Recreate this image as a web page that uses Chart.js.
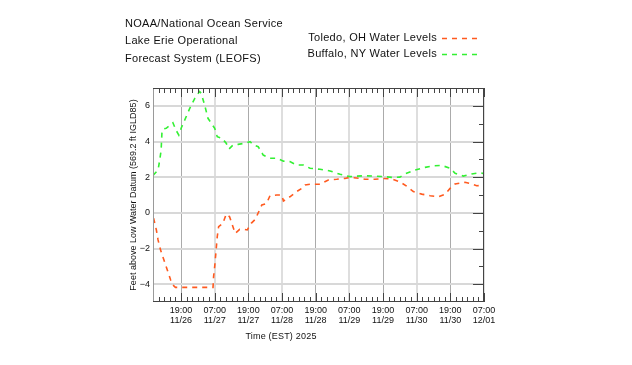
<!DOCTYPE html>
<html>
<head>
<meta charset="utf-8">
<script src="https://cdn.jsdelivr.net/npm/chart.js@4.4.1/dist/chart.umd.min.js"></script>
<style>
html,body{margin:0;padding:0;background:#fff;}
#wrap{position:relative;width:632px;height:365px;}
</style>
</head>
<body>
<div id="wrap"><canvas id="c" width="632" height="365"></canvas></div>
<script>
// Hours counted from 11/26 00:00 EST
const toledoHours  = [9.2,10.2,10.8,11.7,12.9,14.1,15.3,16.1,17,30.4,30.6,31,31.5,31.9,32.4,33.9,35.1,36.3,37.5,38.3,39.9,41.7,42.6,44,45.5,46.4,47.8,49.5,50.7,53.1,54.9,55.5,57.8,60.2,62,63.2,65,68.5,71.5,74.5,77.4,79.2,82.8,84.6,88.1,91.1,94.1,97.1,99.4,101.8,104.8,107.8,110.7,113.1,114.9,116.7,120.2,122.6,124.4,127];
const toledoLevels = [-0.3,-0.96,-1.52,-2.09,-2.65,-3.2,-3.77,-4.05,-4.18,-4.18,-3.58,-3.0,-2.09,-1.34,-0.78,-0.59,-0.07,-0.22,-0.78,-1.15,-0.93,-0.93,-0.96,-0.59,-0.36,-0.04,0.44,0.53,0.96,1.0,1.0,0.66,0.9,1.19,1.37,1.56,1.6,1.6,1.84,1.88,1.93,1.99,1.93,1.88,1.88,1.93,1.9,1.73,1.5,1.19,1.05,0.96,0.9,1.04,1.37,1.62,1.71,1.62,1.52,1.54];
const buffaloHours  = [9,10.8,11.4,11.9,12.2,12.6,13.7,15.0,16.1,17.2,18.2,19.1,20.3,22.1,23.9,25.6,26.2,27.4,28.6,29.8,31,31.9,33.6,35.1,36.1,37.5,39.3,41.7,43.6,44.9,46.5,48.3,50.7,53.1,55.5,57.8,60.2,62.6,65,68.5,72.1,75.7,79.2,84,88.1,91.7,94.1,97,98.8,102.4,106,108.9,111.9,114.9,116.7,119.6,122.6,125.6,127];
const buffaloLevels = [2.1,2.4,2.96,3.52,4.55,4.7,4.74,4.9,5.05,4.64,4.36,4.77,5.2,5.86,6.42,6.8,6.7,6.05,5.3,5.02,4.74,4.27,4.18,3.9,3.58,3.8,3.84,3.9,3.99,3.8,3.71,3.24,3.06,3.06,2.9,2.87,2.68,2.68,2.5,2.44,2.35,2.16,2.03,2.08,2.06,2.03,1.99,2.0,2.18,2.4,2.55,2.64,2.66,2.5,2.22,2.06,2.18,2.25,2.2];

const xTickHours  = [19,31,43,55,67,79,91,103,115,127];
const xTickLabels = [["19:00","11/26"],["07:00","11/27"],["19:00","11/27"],["07:00","11/28"],["19:00","11/28"],["07:00","11/29"],["19:00","11/29"],["07:00","11/30"],["19:00","11/30"],["07:00","12/01"]];
const yTickValues = [-4,-2,0,2,4,6];
const yTickLabels = ["\u22124","\u22122","0","2","4","6"];

const titleLines = ["NOAA/National Ocean Service","Lake Erie Operational","Forecast System (LEOFS)"];
const seriesNames = ["Toledo, OH Water Levels","Buffalo, NY Water Levels"];
const seriesColors = ["#ff5a1f","#33f033"];
const xAxisTitle = "Time (EST) 2025";
const yAxisTitle = "Feet above Low Water Datum (569.2 ft IGLD85)";

const X_MIN = 9, X_MAX = 127, Y_MIN = -5, Y_MAX = 7;
const FONT = "'Liberation Sans', Arial, sans-serif";
const DASH = [5,5];

const decor = {
  id: 'decor',
  beforeDraw(chart){
    const ctx = chart.ctx;
    ctx.save();
    ctx.fillStyle = '#fff';
    ctx.fillRect(0,0,chart.width,chart.height);
    ctx.restore();
  },
  afterDraw(chart){
    const ctx = chart.ctx;
    const a = chart.chartArea;
    const xs = chart.scales.x, ys = chart.scales.y;
    ctx.save();
    // frame
    ctx.lineWidth = 1;
    ctx.strokeStyle = '#9a9a9a';
    ctx.beginPath(); ctx.moveTo(a.left+0.5, a.top); ctx.lineTo(a.left+0.5, a.bottom); ctx.stroke();
    ctx.strokeStyle = '#444';
    ctx.beginPath();
    ctx.moveTo(a.left, a.top+0.5); ctx.lineTo(a.right, a.top+0.5);
    ctx.moveTo(a.right-0.5, a.top); ctx.lineTo(a.right-0.5, a.bottom);
    ctx.moveTo(a.left, a.bottom-0.5); ctx.lineTo(a.right, a.bottom-0.5);
    ctx.stroke();
    // x ticks (top and bottom), every 2 hours, long every 12
    ctx.beginPath();
    for (let h = 11; h <= X_MAX; h += 2){
      const px = Math.round(xs.getPixelForValue(h)) + 0.5;
      const major = ((h - 19) % 12 === 0);
      const len = major ? 9 : 5;
      ctx.moveTo(px, a.bottom); ctx.lineTo(px, a.bottom - len);
      ctx.moveTo(px, a.top); ctx.lineTo(px, a.top + len);
    }
    // y ticks on right side
    for (let v = Y_MIN + 1; v < Y_MAX; v++){
      const py = Math.round(ys.getPixelForValue(v)) + 0.5;
      const len = (v % 2 === 0) ? 11 : 5;
      ctx.moveTo(a.right, py); ctx.lineTo(a.right - len, py);
    }
    ctx.stroke();

    // title block
    ctx.fillStyle = '#111';
    ctx.font = '11px ' + FONT;
    ctx.letterSpacing = '0.3px';
    ctx.textBaseline = 'middle';
    ctx.textAlign = 'left';
    const ty = [24, 41, 59];
    titleLines.forEach((t,i)=>ctx.fillText(t, 125, ty[i]));
    // legend
    const ly = [38, 54];
    seriesNames.forEach((t,i)=>{
      ctx.textAlign = 'right';
      ctx.fillStyle = '#111';
      ctx.fillText(t, 437, ly[i]);
      ctx.strokeStyle = seriesColors[i];
      ctx.lineWidth = 1.5;
      ctx.setLineDash(DASH);
      ctx.beginPath(); ctx.moveTo(442, ly[i]+0.5); ctx.lineTo(480, ly[i]+0.5); ctx.stroke();
      ctx.setLineDash([]);
    });
    // x axis title
    ctx.fillStyle = '#111';
    ctx.font = '9px ' + FONT;
    ctx.letterSpacing = '0.2px';
    ctx.textAlign = 'center';
    ctx.fillText(xAxisTitle, 281, 337);
    ctx.restore();
  }
};

new Chart(document.getElementById('c'), {
  type: 'line',
  data: {
    datasets: [
      { label: seriesNames[0], data: toledoHours.map((h,i)=>({x:h, y:toledoLevels[i]})),
        borderColor: seriesColors[0], borderWidth: 1.6, borderDash: DASH, pointRadius: 0, tension: 0, fill: false },
      { label: seriesNames[1], data: buffaloHours.map((h,i)=>({x:h, y:buffaloLevels[i]})),
        borderColor: seriesColors[1], borderWidth: 1.6, borderDash: DASH, pointRadius: 0, tension: 0, fill: false }
    ]
  },
  options: {
    responsive: false,
    animation: false,
    devicePixelRatio: 1,
    layout: { padding: { left: 120, right: 148, top: 88, bottom: 20 } },
    plugins: { legend: { display: false }, tooltip: { enabled: false }, title: { display: false } },
    scales: {
      x: {
        type: 'linear', min: X_MIN, max: X_MAX,
        afterBuildTicks: s => { s.ticks = xTickHours.map(v=>({value:v})); },
        afterFit: s => { s.height = 43; },
        border: { display: false },
        grid: {
          drawTicks: false,
          color: c => (c.tick && (c.tick.value % 24 === 7)) ? '#dedede' : '#ababab',
          lineWidth: c => (c.tick && (c.tick.value % 24 === 7)) ? 2 : 1
        },
        ticks: {
          autoSkip: false, maxRotation: 0, padding: 4, color: '#111',
          font: { family: FONT, size: 9, lineHeight: 1.1 },
          callback: (v) => { const i = xTickHours.indexOf(v); return i >= 0 ? xTickLabels[i] : ''; }
        }
      },
      y: {
        type: 'linear', min: Y_MIN, max: Y_MAX,
        afterBuildTicks: s => { s.ticks = yTickValues.map(v=>({value:v})); },
        afterFit: s => { s.width = 33; },
        border: { display: false },
        grid: { drawTicks: false, color: '#d8d8d8', lineWidth: 2 },
        ticks: {
          padding: 3, color: '#111',
          font: { family: FONT, size: 9 },
          callback: (v) => { const i = yTickValues.indexOf(v); return i >= 0 ? yTickLabels[i] : ''; }
        },
        title: { display: true, text: yAxisTitle, color: '#111', font: { family: FONT, size: 9 }, padding: { top: 8, bottom: 0 } }
      }
    }
  },
  plugins: [decor]
});
</script>
</body>
</html>
